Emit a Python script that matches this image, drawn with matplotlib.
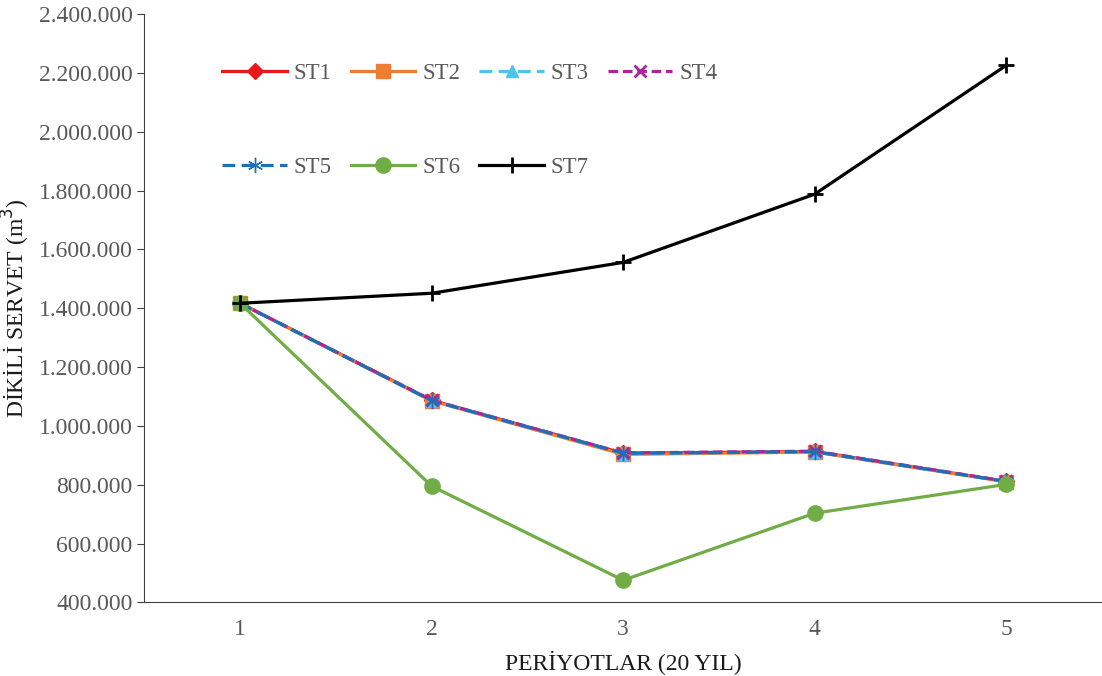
import matplotlib.pyplot as plt
from matplotlib.ticker import FuncFormatter

plt.rcParams["font.family"] = ["Liberation Serif", "DejaVu Serif"]

periods = [1, 2, 3, 4, 5]
st1 = [1417000, 1087000, 907000, 913000, 811000]
st2 = [1417000, 1085000, 903000, 911000, 810000]
st3 = [1417000, 1086000, 906000, 912000, 811000]
st4 = [1417000, 1087000, 908000, 914000, 812000]
st5 = [1417000, 1086000, 907000, 912000, 811000]
st6 = [1417000, 795000, 475000, 703000, 801000]
st7 = [1417000, 1451000, 1556000, 1788000, 2226000]

series = [
    ("ST1", st1, "#E8191B", "D", "-", 8),
    ("ST2", st2, "#ED7D31", "s", "-", 10),
    ("ST3", st3, "#4FC3EC", "^", (0, (4, 2)), 9),
    ("ST4", st4, "#B0219C", "x", (0, (3, 1.5)), 9),
    ("ST5", st5, "#1F6FB5", (6, 2, 0), (0, (4, 2)), 11),
    ("ST6", st6, "#70AD47", "o", "-", 11),
    ("ST7", st7, "#000000", "+", "-", 12),
]

fig, ax = plt.subplots(figsize=(11.02, 6.76), dpi=100)
fig.subplots_adjust(left=0.131, right=1.0, top=0.979, bottom=0.109)

lines = []
for name, vals, color, marker, ls, ms in series:
    ln, = ax.plot(periods, vals, color=color, marker=marker, linestyle=ls,
                  linewidth=2.3, markersize=ms,
                  markeredgewidth=2 if marker in ("x", "+") else 1, label=name)
    lines.append(ln)

ax.set_xlim(0.5, 5.5)
ax.set_ylim(400000, 2400000)
ax.set_yticks(range(400000, 2400001, 200000))
ax.set_xticks(periods)
ax.yaxis.set_major_formatter(FuncFormatter(lambda v, p: f"{int(v):,}".replace(",", ".")))

for s in ("top", "right"):
    ax.spines[s].set_visible(False)
ax.spines["left"].set_color("#404040")
ax.spines["bottom"].set_color("#404040")
ax.tick_params(axis="y", length=5, colors="#404040", labelsize=17, labelcolor="#595959")
ax.tick_params(axis="x", length=0, labelsize=17, labelcolor="#595959", pad=12)

ax.set_ylabel("DİKİLİ SERVET (m$^3$)", fontsize=17, color="#1a1a1a")
ax.yaxis.set_label_coords(-0.117, 0.5)
ax.set_xlabel("PERİYOTLAR (20 YIL)", fontsize=17, labelpad=8, color="#1a1a1a")

# legend fills column-wise, so reorder to read ST1..ST4 / ST5..ST7 by rows
order = [0, 4, 1, 5, 2, 6, 3]
ax.legend([lines[i] for i in order], [lines[i].get_label() for i in order],
          loc="upper left", bbox_to_anchor=(0.06, 0.952), ncol=4, frameon=False,
          fontsize=16.5, handlelength=2.8, columnspacing=0.85, handletextpad=0.3,
          labelspacing=3.2, labelcolor="#595959")

plt.savefig("out.png", dpi=100)
